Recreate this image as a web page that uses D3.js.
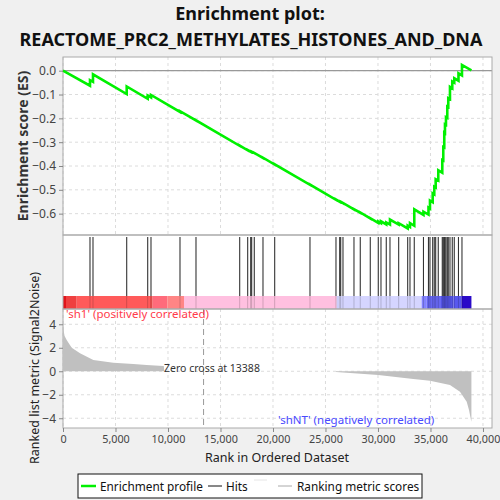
<!DOCTYPE html>
<html>
<head>
<meta charset="utf-8">
<script src="https://cdn.jsdelivr.net/npm/d3@7"></script>
<style>
  body { margin: 0; background: #f0f0f0; }
  text { font-family: "Noto Sans", sans-serif; }
</style>
</head>
<body>
<div id="chart"></div>
<script>
// Gene set hits (rank in ordered dataset)
var hitRanks = [2571, 2857, 6067, 8067, 8381, 11143, 12667, 16829, 17590, 17876, 17971, 18219,
  19048, 20162, 23524, 26000, 26352, 26448, 26667, 27714, 28314, 29267, 30029, 30286, 30790,
  31143, 31971, 32829, 33048, 33457, 34333, 34810, 34952, 35210, 35362, 35495, 35743, 36124,
  36219, 36314, 36381, 36476, 36600, 36695, 36857, 37076, 37267, 37667, 38000];
// running enrichment score just before and just after each hit
var esBefore = [-0.063, -0.047, -0.098, -0.118, -0.112, -0.173, -0.209, -0.315, -0.334, -0.340,
  -0.341, -0.346, -0.366, -0.394, -0.479, -0.542, -0.550, -0.551, -0.556, -0.582, -0.596, -0.620,
  -0.639, -0.640, -0.645, -0.646, -0.646, -0.662, -0.656, -0.651, -0.605, -0.604, -0.579, -0.552,
  -0.519, -0.490, -0.461, -0.428, -0.377, -0.322, -0.262, -0.227, -0.198, -0.152, -0.119, -0.074,
  -0.050, -0.042, -0.020];
var esAfter = [-0.040, -0.015, -0.066, -0.104, -0.102, -0.170, -0.208, -0.314, -0.333, -0.339,
  -0.340, -0.345, -0.365, -0.393, -0.478, -0.541, -0.549, -0.550, -0.555, -0.581, -0.595, -0.619,
  -0.633, -0.632, -0.637, -0.625, -0.640, -0.650, -0.640, -0.582, -0.592, -0.575, -0.545, -0.515,
  -0.487, -0.455, -0.418, -0.375, -0.320, -0.260, -0.225, -0.195, -0.150, -0.115, -0.068, -0.045,
  -0.032, -0.011, 0.024];
var esEndRank = 38900, esEndValue = 0.001;

// ranking metric (Signal2Noise) along the list
var metricRanks = [0, 50, 150, 350, 830, 1620, 2890, 4790, 6700, 7970, 9550, 9600, 9650, 25990,
  26000, 30030, 33365, 34950, 36860, 37810, 38450, 38670, 38860, 38900];
var metricValues = [4.0, 3.5, 3.0, 2.66, 2.0, 1.53, 0.96, 0.73, 0.62, 0.54, 0.45, 0.44, 0, 0,
  -0.06, -0.31, -0.65, -0.80, -1.17, -1.74, -2.6, -3.3, -4.15, -4.3];
var zeroCross = 13388;

// colour bar bins (rank edges)
var binEdges = [0, 286, 1305, 8286, 8543, 9933, 11524, 26067, 26314, 34162, 34638, 36000, 37200, 37971, 38900];

var esTicks = [0.0, -0.1, -0.2, -0.3, -0.4, -0.5, -0.6];
var metricTicks = [4, 2, 0, -2, -4];
var rankTicks = [0, 5000, 10000, 15000, 20000, 25000, 30000, 35000, 40000];

var svg = d3.select("#chart").append("svg")
  .attr("width", 500).attr("height", 500);
svg.append("rect").attr("width", 500).attr("height", 500).attr("fill", "#f0f0f0");

var x = d3.scaleLinear().domain([0, 40860]).range([63, 492]);
var yEs = d3.scaleLinear().domain([-0.6896, 0.0575]).range([235, 57]);
var yM = d3.scaleLinear().domain([-4.83, 5.3]).range([428, 309]);

var binColor = d3.scaleOrdinal()
  .domain(d3.range(binEdges.length - 1))
  .range(["#e0141a", "#ef4040", "#ff5a5a", "#f25252", "#ff6b7b", "#ff8585", "#ffc0e0", "#cccdf9",
          "#d5d5ff", "#8282ff", "#6666f2", "#5656ec", "#5858ef", "#2a0ac8"]);

// panels
svg.append("rect").attr("x", 63).attr("y", 57).attr("width", 429).attr("height", 252).attr("fill", "white");
svg.append("rect").attr("x", 63).attr("y", 309).attr("width", 429).attr("height", 119).attr("fill", "white");

var grid = svg.append("g").attr("stroke", "#dcdcdc").attr("stroke-dasharray", "3,3");
rankTicks.forEach(function(t) {
  grid.append("line").attr("x1", x(t)).attr("x2", x(t)).attr("y1", 57).attr("y2", 235);
  grid.append("line").attr("x1", x(t)).attr("x2", x(t)).attr("y1", 309).attr("y2", 428);
});
esTicks.forEach(function(t) {
  grid.append("line").attr("x1", 63).attr("x2", 492).attr("y1", yEs(t)).attr("y2", yEs(t));
});
metricTicks.forEach(function(t) {
  grid.append("line").attr("x1", 63).attr("x2", 492).attr("y1", yM(t)).attr("y2", yM(t));
});

// ES zero line
svg.append("line").attr("x1", 63).attr("x2", 492).attr("y1", yEs(0)).attr("y2", yEs(0))
  .attr("stroke", "#999").attr("stroke-width", 1.2);

// colour bar
svg.append("g").selectAll("rect")
  .data(d3.range(binEdges.length - 1))
  .enter().append("rect")
  .attr("x", function(i) { return x(binEdges[i]); })
  .attr("width", function(i) { return x(binEdges[i + 1]) - x(binEdges[i]); })
  .attr("y", 296).attr("height", 13)
  .attr("fill", function(i) { return binColor(i); });

// hits
var hits = svg.append("g");
hits.selectAll("line.hit").data(hitRanks).enter().append("line")
  .attr("class", "hit")
  .attr("x1", function(d) { return x(d); }).attr("x2", function(d) { return x(d); })
  .attr("y1", 237).attr("y2", 296)
  .attr("stroke", "#111").attr("stroke-width", 1.1).attr("stroke-opacity", 0.85);
hits.selectAll("line.hitbar").data(hitRanks).enter().append("line")
  .attr("class", "hitbar")
  .attr("x1", function(d) { return x(d); }).attr("x2", function(d) { return x(d); })
  .attr("y1", 296).attr("y2", 309)
  .attr("stroke", "#000").attr("stroke-width", 1).attr("stroke-opacity", 0.18);

// panel borders
svg.append("rect").attr("x", 63).attr("y", 57).attr("width", 429).attr("height", 178)
  .attr("fill", "none").attr("stroke", "#aaa");
svg.append("rect").attr("x", 63).attr("y", 235).attr("width", 429).attr("height", 74)
  .attr("fill", "none").attr("stroke", "#aaa");
svg.append("rect").attr("x", 63).attr("y", 309).attr("width", 429).attr("height", 119)
  .attr("fill", "none").attr("stroke", "#aaa");

// ES profile
var esPts = [[0, 0]];
hitRanks.forEach(function(r, i) {
  esPts.push([r, esBefore[i]]);
  esPts.push([r, esAfter[i]]);
});
esPts.push([esEndRank, esEndValue]);
svg.append("path").datum(esPts)
  .attr("fill", "none").attr("stroke", "#00f000").attr("stroke-width", 2.6)
  .attr("d", d3.line().x(function(d) { return x(d[0]); }).y(function(d) { return yEs(d[1]); }));

// ranked metric area
var mPts = metricRanks.map(function(r, i) { return [r, metricValues[i]]; });
svg.append("path").datum(mPts)
  .attr("fill", "#c0c0c0").attr("stroke", "none")
  .attr("d", d3.area().x(function(d) { return x(d[0]); }).y0(yM(0)).y1(function(d) { return yM(d[1]); }));

// zero cross
svg.append("line").attr("x1", x(zeroCross)).attr("x2", x(zeroCross)).attr("y1", 309).attr("y2", 428)
  .attr("stroke", "#999").attr("stroke-dasharray", "6,4");
svg.append("text").attr("x", 164).attr("y", 372).attr("font-size", 10.5).attr("fill", "#333")
  .text("Zero cross at " + zeroCross);

svg.append("text").attr("x", 66).attr("y", 318).attr("font-size", 11.5).attr("fill", "#ff3b4b")
  .text("'sh1' (positively correlated)");
svg.append("text").attr("x", 278).attr("y", 424).attr("font-size", 11.5).attr("fill", "#4a4aff")
  .text("'shNT' (negatively correlated)");

// axes
function styleAxis(size) {
  return function(g) {
    g.select(".domain").remove();
    g.selectAll(".tick line").attr("stroke", "#888");
    g.selectAll(".tick text").attr("fill", "#444").attr("font-size", size)
      .attr("font-family", "'Noto Sans', sans-serif");
  };
}
svg.append("g").attr("transform", "translate(63,0)")
  .call(d3.axisLeft(yEs).tickValues(esTicks).tickFormat(d3.format(".1f")).tickSize(4).tickPadding(3))
  .call(styleAxis(12));
svg.append("g").attr("transform", "translate(63,0)")
  .call(d3.axisLeft(yM).tickValues(metricTicks).tickFormat(d3.format("d")).tickSize(4).tickPadding(3))
  .call(styleAxis(12));
svg.append("g").attr("transform", "translate(0,428)")
  .call(d3.axisBottom(x).tickValues(rankTicks).tickFormat(d3.format(",")).tickSize(4).tickPadding(3))
  .call(styleAxis(10.8));

// titles
svg.append("text").attr("x", 250).attr("y", 20).attr("text-anchor", "middle")
  .attr("font-size", 18).attr("font-weight", "bold").attr("fill", "#111").text("Enrichment plot:");
svg.append("text").attr("x", 251).attr("y", 46).attr("text-anchor", "middle")
  .attr("font-size", 18).attr("font-weight", "bold").attr("fill", "#111")
  .text("REACTOME_PRC2_METHYLATES_HISTONES_AND_DNA");
svg.append("text").attr("transform", "translate(28,146) rotate(-90)").attr("text-anchor", "middle")
  .attr("font-size", 14).attr("font-weight", "bold").attr("fill", "#333").text("Enrichment score (ES)");
svg.append("text").attr("transform", "translate(39,368) rotate(-90)").attr("text-anchor", "middle")
  .attr("font-size", 12.5).attr("fill", "#222").text("Ranked list metric (Signal2Noise)");
svg.append("text").attr("x", 277).attr("y", 462).attr("text-anchor", "middle")
  .attr("font-size", 12.5).attr("fill", "#222").text("Rank in Ordered Dataset");

// legend
var lg = svg.append("g");
lg.append("rect").attr("x", 78).attr("y", 474).attr("width", 344).attr("height", 24)
  .attr("fill", "white").attr("stroke", "#111");
lg.append("line").attr("x1", 81).attr("x2", 96).attr("y1", 486).attr("y2", 486)
  .attr("stroke", "#00f000").attr("stroke-width", 2.5);
lg.append("text").attr("x", 100).attr("y", 490.5).attr("font-size", 11.8).attr("fill", "#111").text("Enrichment profile");
lg.append("line").attr("x1", 208).attr("x2", 222).attr("y1", 486).attr("y2", 486).attr("stroke", "#111");
lg.append("text").attr("x", 226).attr("y", 490.5).attr("font-size", 11.8).attr("fill", "#111").text("Hits");
lg.append("line").attr("x1", 254).attr("x2", 267).attr("y1", 480).attr("y2", 480).attr("stroke", "#e6e6e6");
lg.append("line").attr("x1", 278).attr("x2", 292).attr("y1", 486).attr("y2", 486).attr("stroke", "#aaa");
lg.append("text").attr("x", 297).attr("y", 490.5).attr("font-size", 11.8).attr("fill", "#111").text("Ranking metric scores");
</script>
</body>
</html>
